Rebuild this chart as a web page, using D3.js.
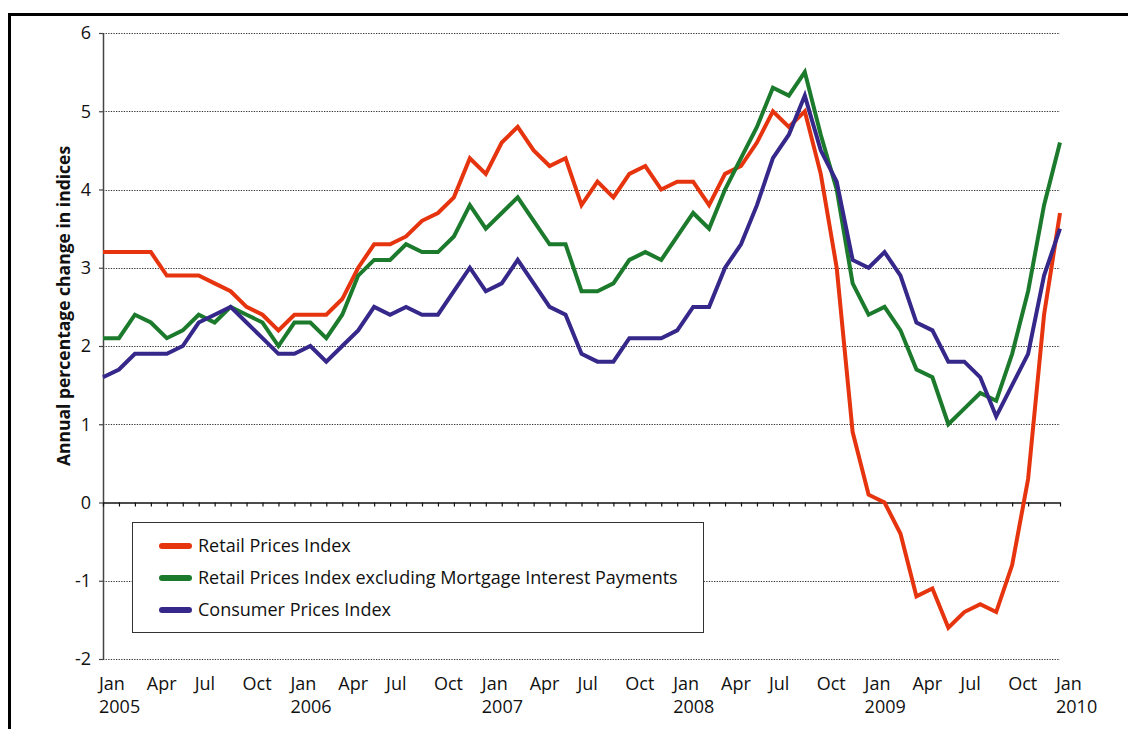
<!DOCTYPE html>
<html>
<head>
<meta charset="utf-8">
<script src="https://cdn.jsdelivr.net/npm/d3@7"></script>
<style>
  body { margin: 0; background: #fff; }
  svg { display: block; font-family: "Open Sans", "Noto Sans", sans-serif; }
</style>
</head>
<body>
<div id="chart"></div>
<script>
// monthly annual % change, Jan 2005 .. Jan 2010
const rpi = [3.2, 3.2, 3.2, 3.2, 2.9, 2.9, 2.9, 2.8, 2.7, 2.5, 2.4, 2.2,
  2.4, 2.4, 2.4, 2.6, 3.0, 3.3, 3.3, 3.4, 3.6, 3.7, 3.9, 4.4,
  4.2, 4.6, 4.8, 4.5, 4.3, 4.4, 3.8, 4.1, 3.9, 4.2, 4.3, 4.0,
  4.1, 4.1, 3.8, 4.2, 4.3, 4.6, 5.0, 4.8, 5.0, 4.2, 3.0, 0.9,
  0.1, 0.0, -0.4, -1.2, -1.1, -1.6, -1.4, -1.3, -1.4, -0.8, 0.3, 2.4,
  3.7];
const rpix = [2.1, 2.1, 2.4, 2.3, 2.1, 2.2, 2.4, 2.3, 2.5, 2.4, 2.3, 2.0,
  2.3, 2.3, 2.1, 2.4, 2.9, 3.1, 3.1, 3.3, 3.2, 3.2, 3.4, 3.8,
  3.5, 3.7, 3.9, 3.6, 3.3, 3.3, 2.7, 2.7, 2.8, 3.1, 3.2, 3.1,
  3.4, 3.7, 3.5, 4.0, 4.4, 4.8, 5.3, 5.2, 5.5, 4.7, 4.0, 2.8,
  2.4, 2.5, 2.2, 1.7, 1.6, 1.0, 1.2, 1.4, 1.3, 1.9, 2.7, 3.8,
  4.6];
const cpi = [1.6, 1.7, 1.9, 1.9, 1.9, 2.0, 2.3, 2.4, 2.5, 2.3, 2.1, 1.9,
  1.9, 2.0, 1.8, 2.0, 2.2, 2.5, 2.4, 2.5, 2.4, 2.4, 2.7, 3.0,
  2.7, 2.8, 3.1, 2.8, 2.5, 2.4, 1.9, 1.8, 1.8, 2.1, 2.1, 2.1,
  2.2, 2.5, 2.5, 3.0, 3.3, 3.8, 4.4, 4.7, 5.2, 4.5, 4.1, 3.1,
  3.0, 3.2, 2.9, 2.3, 2.2, 1.8, 1.8, 1.6, 1.1, 1.5, 1.9, 2.9,
  3.5];

const seriesNames = ["Retail Prices Index",
  "Retail Prices Index excluding Mortgage Interest Payments",
  "Consumer Prices Index"];
const seriesColors = ["#e6340f", "#1c7a2c", "#35288a"];
const monthLabels = ["Jan", "Apr", "Jul", "Oct"];
const yearLabels = ["2005", "2006", "2007", "2008", "2009", "2010"];
const yTicks = [-2, -1, 0, 1, 2, 3, 4, 5, 6];

const W = 1128, H = 729;
const svg = d3.select("#chart").append("svg")
  .attr("width", W)
  .attr("height", H);

// outer frame, runs off the right and bottom edges
svg.append("rect")
  .attr("x", 9.5).attr("y", 14.5)
  .attr("width", W + 20).attr("height", H + 20)
  .attr("fill", "none")
  .attr("stroke", "#000")
  .attr("stroke-width", 3);

const x = d3.scaleLinear().domain([0, 60]).range([103, 1060]);
const y = d3.scaleLinear().domain([-2, 6]).range([659, 33]);

// dotted gridlines
svg.append("g")
  .selectAll("line")
  .data(yTicks.filter(d => d !== 0))
  .enter().append("line")
  .attr("x1", x(0))
  .attr("x2", x(60))
  .attr("y1", d => Math.round(y(d)) + 0.5)
  .attr("y2", d => Math.round(y(d)) + 0.5)
  .attr("stroke", "#333")
  .attr("stroke-width", 1)
  .attr("stroke-dasharray", "1.3,1.3");

// y axis
const yAxis = svg.append("g")
  .attr("transform", `translate(${x(0)},0)`)
  .call(d3.axisLeft(y).tickValues(yTicks).tickSize(4).tickSizeOuter(0).tickPadding(8)
    .tickFormat(d => String(d)));
yAxis.select(".domain").attr("stroke", "#444").attr("stroke-width", 1.5);
yAxis.selectAll(".tick line").attr("stroke", "#444").attr("stroke-width", 1.2);
yAxis.selectAll("text")
  .attr("font-size", "18px")
  .attr("font-family", "'Open Sans', sans-serif")
  .attr("fill", "#111");

// x axis at zero with monthly ticks
const xAxis = svg.append("g")
  .attr("transform", `translate(0,${y(0)})`)
  .call(d3.axisBottom(x).tickValues(d3.range(61)).tickSize(4).tickSizeOuter(0).tickFormat(""));
xAxis.select(".domain").attr("stroke", "#111").attr("stroke-width", 1.5);
xAxis.selectAll(".tick line").attr("stroke", "#111").attr("stroke-width", 1.2);

// month / year labels along the bottom
const labelTicks = d3.range(0, 61, 3);
svg.append("g")
  .selectAll("text")
  .data(labelTicks)
  .enter().append("text")
  .attr("x", d => x(d) - 4)
  .attr("y", 690)
  .attr("font-size", "18px")
  .attr("fill", "#111")
  .text(d => monthLabels[(d / 3) % 4]);

svg.append("g")
  .selectAll("text")
  .data(yearLabels)
  .enter().append("text")
  .attr("x", (d, i) => x(i * 12) - 4)
  .attr("y", 713)
  .attr("font-size", "18px")
  .attr("fill", "#111")
  .text(d => d);

// y axis title
svg.append("text")
  .attr("transform", "rotate(-90)")
  .attr("x", -306)
  .attr("y", 70)
  .attr("text-anchor", "middle")
  .attr("font-size", "17.5px")
  .attr("font-weight", "bold")
  .attr("fill", "#111")
  .text("Annual percentage change in indices");

// lines
const line = d3.line()
  .x((d, i) => x(i))
  .y(d => y(d));

[rpi, rpix, cpi].forEach((values, k) => {
  svg.append("path")
    .datum(values)
    .attr("fill", "none")
    .attr("stroke", seriesColors[k])
    .attr("stroke-width", 4)
    .attr("stroke-linejoin", "miter")
    .attr("d", line);
});

// legend
const legend = svg.append("g");
legend.append("rect")
  .attr("x", 132.5).attr("y", 522.5)
  .attr("width", 571).attr("height", 110)
  .attr("fill", "#fff")
  .attr("stroke", "#333")
  .attr("stroke-width", 1);

const items = legend.selectAll(".item")
  .data(seriesNames)
  .enter().append("g")
  .attr("class", "item")
  .attr("transform", (d, i) => `translate(0,${546 + i * 32})`);

items.append("line")
  .attr("x1", 162).attr("x2", 189)
  .attr("y1", 0).attr("y2", 0)
  .attr("stroke", (d, i) => seriesColors[i])
  .attr("stroke-width", 6)
  .attr("stroke-linecap", "round");

items.append("text")
  .attr("x", 198)
  .attr("y", 6)
  .attr("font-size", "18px")
  .attr("fill", "#111")
  .text(d => d);
</script>
</body>
</html>
